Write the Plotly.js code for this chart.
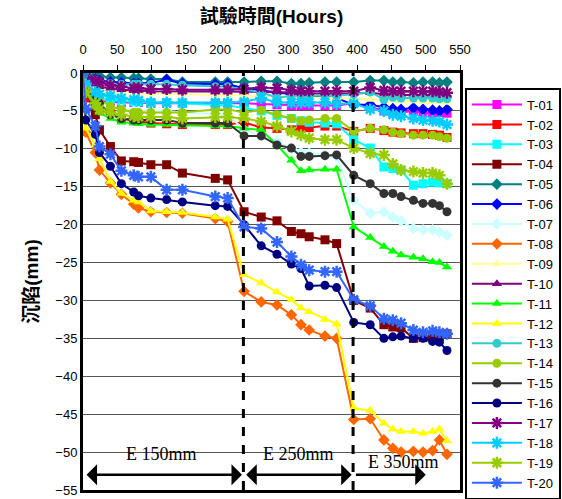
<!DOCTYPE html>
<html><head><meta charset="utf-8">
<script src="https://cdn.plot.ly/plotly-3.0.1.min.js"></script>
<style>html,body{margin:0;padding:0;background:#fff}#chart{width:562px;height:499px}</style>
</head><body><div id="chart"></div>
<script>
const hours = [0,4,18,24,40,56,74,81,99,122,145,193,211,235,260,283,304,318,330,353,370,395,419,439,452,464,482,496,510,520,531];
const names = ["T-01","T-02","T-03","T-04","T-05","T-06","T-07","T-08","T-09","T-10","T-11","T-12","T-13","T-14","T-15","T-16","T-17","T-18","T-19","T-20"];
const T01 = [0,-3.2,-3.5,-3.7,-3.8,-3.9,-3.9,-3.9,-4.0,-4.0,-4.0,-4.0,-4.0,-4.0,-4.1,-4.2,-4.3,-4.3,-4.3,-4.3,-4.3,-4.0,-4.5,-5.0,-5.2,-5.2,-5.0,-5.2,-5.3,-5.2,-5.3];
const T02 = [0,-3.3,-4.5,-5.0,-5.2,-6.0,-6.3,-6.4,-6.6,-6.7,-6.8,-6.8,-6.8,-6.5,-7.2,-7.3,-7.5,-7.3,-7.2,-7.0,-7.0,-7.7,-7.3,-7.6,-7.8,-7.9,-8.0,-8.0,-8.1,-8.2,-8.5];
const T03 = [0,-2.0,-3.0,-3.3,-3.5,-3.7,-3.8,-3.8,-3.9,-3.9,-4.0,-4.2,-4.3,-4.6,-5.0,-5.6,-6.0,-6.3,-6.5,-6.6,-6.7,-8.8,-9.9,-12.4,-12.6,-12.8,-14.8,-14.6,-14.4,-14.5,-14.6];
const T04 = [0,-2.0,-5.5,-7.5,-9.7,-11.6,-11.7,-11.8,-12.1,-12.1,-13.2,-13.9,-14.1,-18.3,-19.0,-19.5,-20.9,-21.2,-21.6,-22.0,-22.5,-30.0,-31.0,-33.2,-33.5,-33.6,-35.0,-34.9,-34.7,-34.8,-34.4];
const T05 = [0,-0.2,-0.3,-0.4,-0.6,-0.6,-0.7,-0.7,-0.8,-0.8,-1.2,-1.2,-1.2,-1.2,-1.1,-1.1,-1.4,-1.4,-1.3,-1.2,-1.2,-1.2,-1.0,-1.0,-1.2,-1.2,-1.3,-1.2,-1.2,-1.3,-1.2];
const T06 = [0,-0.5,-0.8,-1.0,-1.2,-1.3,-1.4,-1.4,-1.3,-0.9,-1.4,-1.5,-1.5,-2.0,-2.3,-2.6,-2.8,-3.0,-3.1,-3.2,-3.3,-4.2,-4.2,-4.5,-4.7,-4.8,-4.6,-4.8,-4.9,-5.0,-4.8];
const T07 = [0,-2.0,-3.5,-4.0,-4.5,-4.8,-5.0,-5.0,-5.0,-5.0,-5.2,-5.4,-5.5,-7.5,-8.3,-9.0,-10.0,-10.5,-10.6,-10.8,-11.0,-16.8,-18.5,-18.3,-19.0,-19.5,-20.5,-20.7,-20.7,-21.0,-21.4];
const T08 = [0,-7.8,-10.5,-12.8,-14.5,-16.0,-17.3,-17.8,-18.3,-18.4,-18.5,-19.2,-19.6,-28.8,-30.2,-30.6,-31.9,-33.2,-33.9,-34.7,-35.0,-45.7,-45.6,-48.4,-49.5,-50.0,-49.9,-50.0,-49.8,-48.4,-50.3];
const T09 = [0,-1.5,-2.0,-2.2,-2.4,-2.5,-2.6,-2.6,-2.7,-2.7,-2.8,-2.9,-2.9,-3.0,-3.0,-3.1,-3.2,-3.2,-3.3,-3.3,-3.3,-3.4,-3.5,-3.6,-3.6,-3.7,-3.7,-3.8,-3.8,-3.8,-3.9];
const T10 = [0,-0.8,-1.5,-1.8,-2.0,-2.2,-2.3,-2.3,-2.4,-2.4,-2.5,-2.5,-2.5,-2.5,-2.4,-2.5,-2.6,-2.6,-2.7,-2.7,-2.7,-2.7,-2.6,-2.8,-2.8,-2.9,-2.9,-2.9,-3.0,-3.0,-3.0];
const T11 = [0,-2.5,-4.5,-5.2,-6.0,-6.5,-6.6,-6.7,-6.8,-6.8,-6.9,-7.0,-7.0,-7.3,-7.5,-9.5,-11.5,-12.9,-12.8,-12.7,-12.7,-20.3,-21.7,-22.9,-23.5,-24.0,-24.3,-24.5,-24.9,-25.0,-25.6];
const T12 = [0,-7.3,-9.5,-11.3,-14.3,-15.9,-16.8,-17.0,-18.2,-18.3,-18.4,-19.0,-19.3,-26.6,-27.7,-28.9,-29.9,-31.0,-31.5,-32.5,-33.1,-44.2,-44.5,-46.2,-47.0,-47.3,-47.3,-47.5,-47.3,-47.0,-48.5];
const T13 = [0,-0.5,-1.0,-1.2,-1.4,-1.5,-1.5,-1.5,-1.5,-1.5,-1.6,-1.8,-1.8,-2.2,-2.5,-3.3,-3.0,-3.0,-3.0,-3.0,-3.0,-2.8,-2.5,-3.5,-3.2,-3.3,-3.3,-3.3,-3.3,-3.4,-3.4];
const T14 = [0,-1.5,-2.6,-3.5,-4.4,-4.8,-5.2,-5.2,-5.2,-5.2,-5.2,-4.8,-4.8,-5.2,-4.9,-5.5,-6.0,-6.3,-6.2,-6.0,-6.0,-7.7,-7.3,-7.5,-7.8,-8.0,-8.2,-8.2,-8.2,-8.4,-8.6];
const T15 = [0,-2.0,-3.5,-4.0,-5.5,-6.0,-6.2,-6.2,-6.2,-6.2,-6.6,-6.6,-6.6,-8.3,-8.3,-9.5,-9.9,-11.0,-11.0,-10.9,-10.8,-13.5,-14.6,-15.9,-15.9,-16.3,-16.8,-17.2,-17.2,-17.5,-18.3];
const T16 = [0,-6.2,-8.1,-10.5,-12.3,-14.6,-15.7,-16.2,-16.5,-16.7,-17.0,-17.5,-17.6,-20.0,-22.8,-23.9,-25.2,-25.8,-28.1,-28.0,-28.3,-32.9,-33.2,-35.0,-34.8,-34.7,-35.0,-35.0,-35.4,-35.5,-36.6];
const T17 = [0,-0.5,-1.0,-1.2,-1.6,-1.8,-2.0,-2.0,-2.1,-2.1,-2.2,-2.2,-2.2,-2.1,-1.9,-2.0,-2.3,-2.4,-2.4,-2.4,-2.4,-2.4,-1.9,-2.3,-2.4,-2.4,-2.4,-2.4,-2.4,-2.5,-2.6];
const T18 = [0,-1.5,-2.5,-2.8,-3.0,-3.3,-3.5,-3.6,-3.9,-3.9,-3.9,-3.9,-3.9,-3.8,-3.3,-3.9,-3.9,-3.9,-3.9,-3.9,-4.1,-4.0,-4.8,-5.0,-5.5,-5.7,-6.0,-6.2,-6.3,-6.4,-6.8];
const T19 = [0,-2.5,-4.0,-4.8,-5.2,-5.5,-5.7,-5.8,-5.8,-5.8,-6.0,-5.8,-5.8,-6.0,-6.4,-7.0,-7.7,-8.2,-8.6,-8.8,-8.8,-9.9,-10.6,-10.8,-12.0,-12.8,-13.0,-13.2,-13.2,-13.5,-14.6];
const T20 = [0,-4.7,-7.0,-9.7,-10.7,-12.9,-13.5,-13.7,-13.7,-15.4,-15.4,-16.3,-16.5,-20.3,-20.5,-22.3,-24.2,-25.3,-26.0,-26.2,-26.2,-29.9,-30.7,-32.4,-32.6,-33.0,-33.9,-34.2,-34.0,-34.2,-34.4];
const seriesValues = [T01,T02,T03,T04,T05,T06,T07,T08,T09,T10,T11,T12,T13,T14,T15,T16,T17,T18,T19,T20];
const xTicks = [0,50,100,150,200,250,300,350,400,450,500,550];
const yTicks = [0,-5,-10,-15,-20,-25,-30,-35,-40,-45,-50,-55];
const stageBounds = [234, 394];
const stageLabels = ["E 150mm","E 250mm","E 350mm"];

const colors = ["#FF00FF","#FF0000","#00FFFF","#800000","#008080","#0000FF","#CCFFFF","#FF6600","#FFFF99","#800080","#00FF00","#FFFF00","#33CCCC","#99CC00","#333333","#000080","#800080","#00CCFF","#99CC00","#3366FF"];
const symbols = ["square","square","square","square","diamond","diamond","diamond","diamond","triangle-up","triangle-up","triangle-up","triangle-up","circle","circle","circle","circle","asterisk-open","asterisk-open","asterisk-open","asterisk-open"];

const traces = names.map((n,i)=>{
  const sym = symbols[i];
  const isAst = sym.startsWith("asterisk");
  return {
    x: hours, y: seriesValues[i], name: n, type: "scatter", mode: "lines+markers",
    line: {color: colors[i], width: 2},
    marker: {symbol: sym, color: colors[i], size: isAst ? 10 : 9,
             line: {color: colors[i], width: isAst ? 2.5 : 0}}
  };
});

const layout = {
  width: 562, height: 499,
  margin: {l: 83, r: 102, t: 73, b: 9, autoexpand: false},
  paper_bgcolor: "#fff", plot_bgcolor: "#fff",
  font: {family: "Liberation Sans, Arial, sans-serif", color: "#000", size: 13},
  showlegend: true,
  legend: {x: 1.013, xanchor: "left", y: 0.965, yanchor: "top", maxheight: 480,
           bordercolor: "#000", borderwidth: 2, bgcolor: "#fff",
           font: {size: 13, family: "Liberation Sans, Arial"}, itemwidth: 50, tracegroupgap: 0},
  xaxis: {side: "top", range: [0, 550], tickvals: xTicks, ticks: "outside", ticklen: 5, tickwidth: 1,
          tickcolor: "#000", showgrid: false, zeroline: false, showline: true, linewidth: 3,
          linecolor: "#000", mirror: true, tickfont: {size: 13}, ticklabelstandoff: 6, automargin: false,
          title: {text: "<b>試驗時間(Hours)</b>", font: {size: 19, family: "Liberation Sans, Noto Sans CJK TC"}, standoff: 14}},
  yaxis: {range: [-55, 0], tickvals: yTicks, ticks: "", showgrid: true, gridcolor: "#555", gridwidth: 1, automargin: false,
          zeroline: false, showline: true, linewidth: 3, linecolor: "#000", mirror: true, tickfont: {size: 13},
          title: {text: "<b>沉陷(mm)</b>", font: {size: 19, family: "Liberation Sans, Noto Sans CJK TC"}, standoff: 12}},
  shapes: stageBounds.map(b=>({type: "line", xref: "x", yref: "paper", x0: b, x1: b, y0: 0, y1: 1,
          line: {color: "#000", width: 3, dash: "dash"}})),
  annotations: [
    {x: 114, y: -50.3, text: stageLabels[0], showarrow: false, font: {family: "Liberation Serif, Times New Roman", size: 18}},
    {x: 314, y: -50.3, text: stageLabels[1], showarrow: false, font: {family: "Liberation Serif, Times New Roman", size: 18}},
    {x: 468, y: -51.3, text: stageLabels[2], showarrow: false, font: {family: "Liberation Serif, Times New Roman", size: 18}},
    {x: stageBounds[0]-2, y: -53, ax: 3, ay: -53, axref: "x", ayref: "y", xref: "x", yref: "y", text: "",
     showarrow: true, arrowhead: 1, startarrowhead: 1, arrowside: "end+start", arrowsize: 1.4, arrowwidth: 2.5, arrowcolor: "#000"},
    {x: stageBounds[1]-2, y: -53, ax: stageBounds[0]+2, ay: -53, axref: "x", ayref: "y", xref: "x", yref: "y", text: "",
     showarrow: true, arrowhead: 1, startarrowhead: 1, arrowside: "end+start", arrowsize: 1.4, arrowwidth: 2.5, arrowcolor: "#000"},
    {x: 500, y: -53, ax: stageBounds[1]+2, ay: -53, axref: "x", ayref: "y", xref: "x", yref: "y", text: "",
     showarrow: true, arrowhead: 1, arrowsize: 1.4, arrowwidth: 2.5, arrowcolor: "#000"}
  ]
};
Plotly.newPlot("chart", traces, layout, {displayModeBar: false, staticPlot: true});
</script></body></html>
